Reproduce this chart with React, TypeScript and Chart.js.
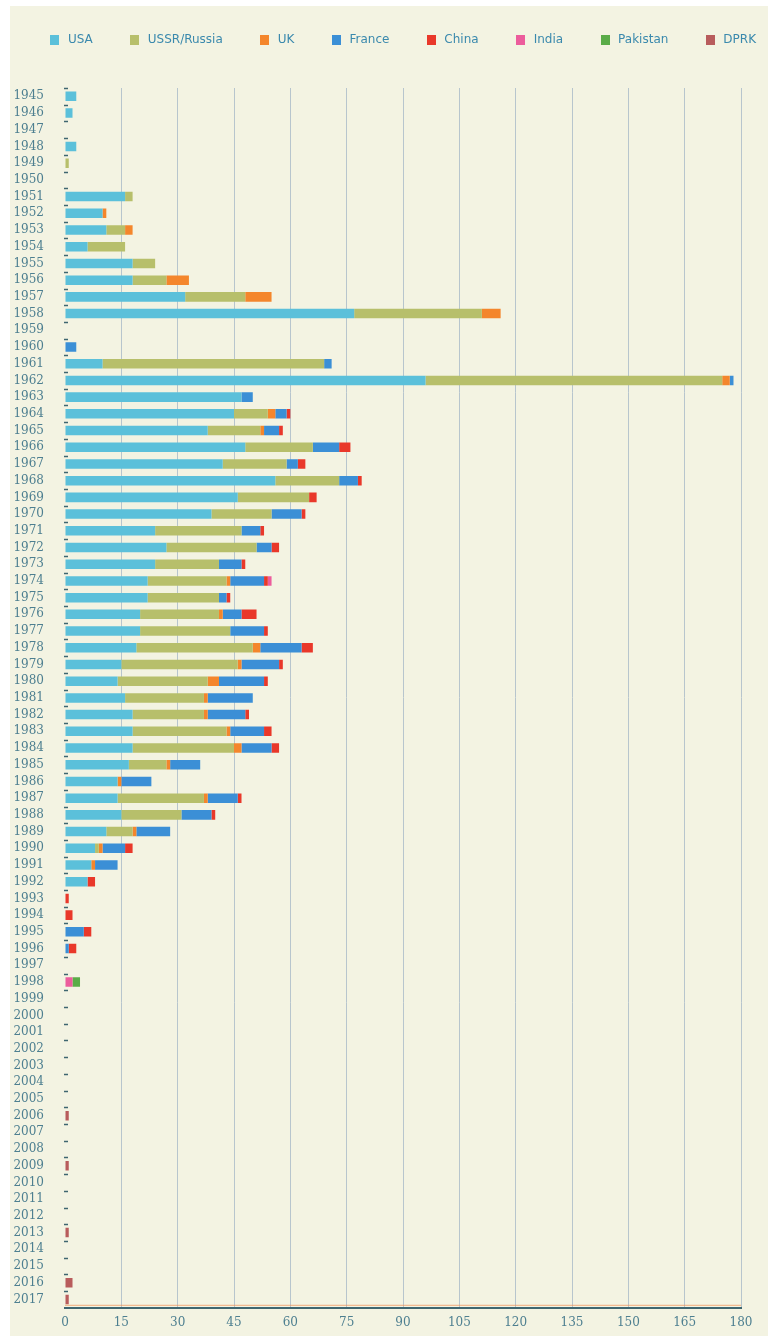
import React, { useEffect, useRef } from 'react';
import { Chart, registerables } from 'chart.js';

Chart.register(...registerables);

const years = [
  '1945', '1946', '1947', '1948', '1949', '1950',
  '1951', '1952', '1953', '1954', '1955', '1956', '1957', '1958', '1959', '1960',
  '1961', '1962', '1963', '1964', '1965', '1966', '1967', '1968', '1969', '1970',
  '1971', '1972', '1973', '1974', '1975', '1976', '1977', '1978', '1979', '1980',
  '1981', '1982', '1983', '1984', '1985', '1986', '1987', '1988', '1989', '1990',
  '1991', '1992', '1993', '1994', '1995', '1996', '1997', '1998', '1999', '2000',
  '2001', '2002', '2003', '2004', '2005', '2006', '2007', '2008', '2009', '2010',
  '2011', '2012', '2013', '2014', '2015', '2016', '2017',
];

// 1945-1950 | 1951-1960 | 1961-1970 | 1971-1980 | 1981-1990 | 1991-2000 | 2001-2010 | 2011-2017
const usa = [
  3, 2, 0, 3, 0, 0,
  16, 10, 11, 6, 18, 18, 32, 77, 0, 0,
  10, 96, 47, 45, 38, 48, 42, 56, 46, 39,
  24, 27, 24, 22, 22, 20, 20, 19, 15, 14,
  16, 18, 18, 18, 17, 14, 14, 15, 11, 8,
  7, 6, 0, 0, 0, 0, 0, 0, 0, 0,
  0, 0, 0, 0, 0, 0, 0, 0, 0, 0,
  0, 0, 0, 0, 0, 0, 0,
];
const ussr = [
  0, 0, 0, 0, 1, 0,
  2, 0, 5, 10, 6, 9, 16, 34, 0, 0,
  59, 79, 0, 9, 14, 18, 17, 17, 19, 16,
  23, 24, 17, 21, 19, 21, 24, 31, 31, 24,
  21, 19, 25, 27, 10, 0, 23, 16, 7, 1,
  0, 0, 0, 0, 0, 0, 0, 0, 0, 0,
  0, 0, 0, 0, 0, 0, 0, 0, 0, 0,
  0, 0, 0, 0, 0, 0, 0,
];
const uk = [
  0, 0, 0, 0, 0, 0,
  0, 1, 2, 0, 0, 6, 7, 5, 0, 0,
  0, 2, 0, 2, 1, 0, 0, 0, 0, 0,
  0, 0, 0, 1, 0, 1, 0, 2, 1, 3,
  1, 1, 1, 2, 1, 1, 1, 0, 1, 1,
  1, 0, 0, 0, 0, 0, 0, 0, 0, 0,
  0, 0, 0, 0, 0, 0, 0, 0, 0, 0,
  0, 0, 0, 0, 0, 0, 0,
];
const france = [
  0, 0, 0, 0, 0, 0,
  0, 0, 0, 0, 0, 0, 0, 0, 0, 3,
  2, 1, 3, 3, 4, 7, 3, 5, 0, 8,
  5, 4, 6, 9, 2, 5, 9, 11, 10, 12,
  12, 10, 9, 8, 8, 8, 8, 8, 9, 6,
  6, 0, 0, 0, 5, 1, 0, 0, 0, 0,
  0, 0, 0, 0, 0, 0, 0, 0, 0, 0,
  0, 0, 0, 0, 0, 0, 0,
];
const china = [
  0, 0, 0, 0, 0, 0,
  0, 0, 0, 0, 0, 0, 0, 0, 0, 0,
  0, 0, 0, 1, 1, 3, 2, 1, 2, 1,
  1, 2, 1, 1, 1, 4, 1, 3, 1, 1,
  0, 1, 2, 2, 0, 0, 1, 1, 0, 2,
  0, 2, 1, 2, 2, 2, 0, 0, 0, 0,
  0, 0, 0, 0, 0, 0, 0, 0, 0, 0,
  0, 0, 0, 0, 0, 0, 0,
];
const india = [
  0, 0, 0, 0, 0, 0,
  0, 0, 0, 0, 0, 0, 0, 0, 0, 0,
  0, 0, 0, 0, 0, 0, 0, 0, 0, 0,
  0, 0, 0, 1, 0, 0, 0, 0, 0, 0,
  0, 0, 0, 0, 0, 0, 0, 0, 0, 0,
  0, 0, 0, 0, 0, 0, 0, 2, 0, 0,
  0, 0, 0, 0, 0, 0, 0, 0, 0, 0,
  0, 0, 0, 0, 0, 0, 0,
];
const pakistan = [
  0, 0, 0, 0, 0, 0,
  0, 0, 0, 0, 0, 0, 0, 0, 0, 0,
  0, 0, 0, 0, 0, 0, 0, 0, 0, 0,
  0, 0, 0, 0, 0, 0, 0, 0, 0, 0,
  0, 0, 0, 0, 0, 0, 0, 0, 0, 0,
  0, 0, 0, 0, 0, 0, 0, 2, 0, 0,
  0, 0, 0, 0, 0, 0, 0, 0, 0, 0,
  0, 0, 0, 0, 0, 0, 0,
];
const dprk = [
  0, 0, 0, 0, 0, 0,
  0, 0, 0, 0, 0, 0, 0, 0, 0, 0,
  0, 0, 0, 0, 0, 0, 0, 0, 0, 0,
  0, 0, 0, 0, 0, 0, 0, 0, 0, 0,
  0, 0, 0, 0, 0, 0, 0, 0, 0, 0,
  0, 0, 0, 0, 0, 0, 0, 0, 0, 0,
  0, 0, 0, 0, 0, 1, 0, 0, 1, 0,
  0, 0, 1, 0, 0, 2, 1,
];

const seriesNames = ['USA', 'USSR/Russia', 'UK', 'France', 'China', 'India', 'Pakistan', 'DPRK'];
const seriesValues = [usa, ussr, uk, france, china, india, pakistan, dprk];
const seriesColors = ['#5bc0da', '#b7bf6b', '#f4862c', '#3b8fd6', '#e9382a', '#ec5c9c', '#5aac48', '#b85c5c'];

const xMax = 180;
const xStep = 15;

const LEGEND_COLOR = '#3a89ad';
const TICK_COLOR = '#4d7f90';
const GRID_COLOR = '#b7c5cd';
const AXIS_COLOR = '#3e6670';

function makeBox(color: string) {
  const c = document.createElement('canvas');
  c.width = 9;
  c.height = 10;
  const g = c.getContext('2d');
  if (g) {
    g.fillStyle = color;
    g.fillRect(0, 0, 9, 10);
  }
  return c;
}

const legendShift = {
  id: 'legendShift',
  afterLayout(chart: any) {
    const l = chart.legend;
    if (l) {
      l.top -= 32;
      l.bottom -= 32;
    }
  },
};

const decor = {
  id: 'decor',
  afterDraw(chart: any) {
    const { ctx, chartArea, scales } = chart;
    const ys = scales.y;
    const pitch = ys.getPixelForValue(1) - ys.getPixelForValue(0);
    ctx.save();
    ctx.strokeStyle = AXIS_COLOR;
    ctx.lineWidth = 1.5;
    for (let i = 0; i < years.length; i++) {
      const y = Math.round(ys.getPixelForValue(i) - pitch / 2) + 0.5;
      ctx.beginPath();
      ctx.moveTo(chartArea.left - 1, y);
      ctx.lineTo(chartArea.left + 3, y);
      ctx.stroke();
    }
    ctx.strokeStyle = 'rgba(240,140,80,0.7)';
    ctx.lineWidth = 1;
    ctx.beginPath();
    ctx.moveTo(chartArea.left, chartArea.bottom - 2.5);
    ctx.lineTo(chartArea.right, chartArea.bottom - 2.5);
    ctx.stroke();
    ctx.restore();
  },
};

export default function App() {
  const ref = useRef<HTMLCanvasElement>(null);

  useEffect(() => {
    if (!ref.current) return;
    const datasets = seriesNames.map((name, i) => ({
      label: name,
      data: seriesValues[i],
      backgroundColor: seriesColors[i],
      borderWidth: 0,
      barPercentage: 0.57,
      categoryPercentage: 1.0,
    }));

    const chart = new Chart(ref.current, {
      type: 'bar',
      data: { labels: years, datasets },
      plugins: [legendShift, decor],
      options: {
        indexAxis: 'y',
        responsive: true,
        maintainAspectRatio: false,
        animation: false,
        layout: { padding: { top: 25, left: 0, right: 0, bottom: 0 } },
        plugins: {
          legend: {
            position: 'top',
            labels: {
              usePointStyle: true,
              pointStyleWidth: 14,
              padding: 35,
              color: LEGEND_COLOR,
              font: { family: '"DejaVu Sans", sans-serif', size: 12 },
              generateLabels: (ch: any) =>
                ch.data.datasets.map((ds: any, i: number) => ({
                  text: ds.label,
                  fillStyle: ds.backgroundColor,
                  strokeStyle: ds.backgroundColor,
                  lineWidth: 0,
                  pointStyle: makeBox(ds.backgroundColor),
                  hidden: false,
                  datasetIndex: i,
                  fontColor: LEGEND_COLOR,
                })),
            },
          },
          tooltip: { enabled: false },
          title: { display: false },
        },
        scales: {
          x: {
            type: 'linear',
            stacked: true,
            position: 'bottom',
            min: 0,
            max: xMax,
            ticks: {
              stepSize: xStep,
              color: TICK_COLOR,
              font: { family: '"DejaVu Serif", serif', size: 12 },
              padding: 8,
              maxRotation: 0,
              autoSkip: false,
            },
            grid: {
              color: (c: any) => (c.index === 0 ? 'rgba(0,0,0,0)' : GRID_COLOR),
              lineWidth: 1,
              drawTicks: false,
            },
            border: { display: true, color: AXIS_COLOR, width: 2 },
            afterFit: (s: any) => {
              s.height = 26;
            },
          },
          y: {
            type: 'category',
            stacked: true,
            position: 'left',
            ticks: {
              color: TICK_COLOR,
              font: { family: '"DejaVu Serif", serif', size: 12 },
              padding: 21,
              autoSkip: false,
            },
            grid: { display: false, drawTicks: false },
            border: { display: false },
            afterFit: (s: any) => {
              s.width = 55;
            },
          },
          y2: {
            type: 'category',
            position: 'right',
            labels: years,
            ticks: { display: false },
            grid: { display: false, drawTicks: false },
            border: { display: false },
            afterFit: (s: any) => {
              s.width = 53;
            },
          },
        },
      } as any,
    });
    return () => chart.destroy();
  }, []);

  return (
    <div
      style={{
        position: 'absolute',
        left: 10,
        top: 6,
        width: 758,
        height: 1330,
        background: '#f3f3e2',
        overflow: 'hidden',
      }}
    >
      <div style={{ position: 'relative', width: 784, height: 1330 }}>
        <canvas ref={ref} />
      </div>
    </div>
  );
}
